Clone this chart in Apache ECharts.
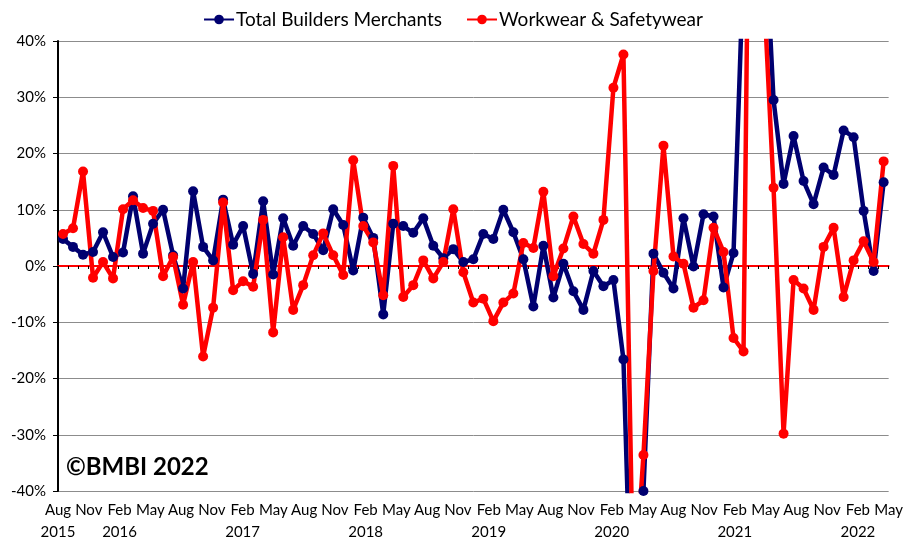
<!DOCTYPE html>
<html lang="en">
<head>
    <meta charset="utf-8">
    <title>BMBI - Workwear & Safetywear</title>
    <style type="text/css">
        html, body {
            margin: 0;
            padding: 0;
            background: #ffffff;
        }

        #main {
            width: 906px;
            height: 543px;
        }
    </style>
</head>
<body>
<div id="main"></div>
<script src="https://cdn.jsdelivr.net/npm/echarts@6/dist/echarts.min.js" type="text/javascript"></script>
<script type="text/javascript">
    // monthly points, Jul 2015 .. May 2022
    const months = [
        'Jul 2015', 'Aug 2015', 'Sep 2015', 'Oct 2015', 'Nov 2015', 'Dec 2015',
        'Jan 2016', 'Feb 2016', 'Mar 2016', 'Apr 2016', 'May 2016', 'Jun 2016', 'Jul 2016', 'Aug 2016', 'Sep 2016', 'Oct 2016', 'Nov 2016', 'Dec 2016',
        'Jan 2017', 'Feb 2017', 'Mar 2017', 'Apr 2017', 'May 2017', 'Jun 2017', 'Jul 2017', 'Aug 2017', 'Sep 2017', 'Oct 2017', 'Nov 2017', 'Dec 2017',
        'Jan 2018', 'Feb 2018', 'Mar 2018', 'Apr 2018', 'May 2018', 'Jun 2018', 'Jul 2018', 'Aug 2018', 'Sep 2018', 'Oct 2018', 'Nov 2018', 'Dec 2018',
        'Jan 2019', 'Feb 2019', 'Mar 2019', 'Apr 2019', 'May 2019', 'Jun 2019', 'Jul 2019', 'Aug 2019', 'Sep 2019', 'Oct 2019', 'Nov 2019', 'Dec 2019',
        'Jan 2020', 'Feb 2020', 'Mar 2020', 'Apr 2020', 'May 2020', 'Jun 2020', 'Jul 2020', 'Aug 2020', 'Sep 2020', 'Oct 2020', 'Nov 2020', 'Dec 2020',
        'Jan 2021', 'Feb 2021', 'Mar 2021', 'Apr 2021', 'May 2021', 'Jun 2021', 'Jul 2021', 'Aug 2021', 'Sep 2021', 'Oct 2021', 'Nov 2021', 'Dec 2021',
        'Jan 2022', 'Feb 2022', 'Mar 2022', 'Apr 2022', 'May 2022'
    ];

    // % change year on year
    const totalBuilders = [
        4.8, 3.4, 2.0, 2.5, 6.0, 1.6, 2.4, 12.4, 2.2, 7.5, 10.0, 1.9, -4.0, 13.3, 3.4, 1.0,
        11.8, 3.8, 7.1, -1.4, 11.5, -1.5, 8.5, 3.6, 7.1, 5.7, 2.8, 10.1, 7.3, -0.8,
        8.6, 5.0, -8.6, 7.5, 7.1, 5.9, 8.5, 3.6, 1.4, 3.0, 0.7, 1.2, 5.7,
        4.8, 10.0, 6.0, 1.2, -7.2, 3.6, -5.6, 0.4, -4.5, -7.8, -0.9, -3.6, -2.5,
        -16.6, -76, -40, 2.2, -1.2, -4.0, 8.5, -0.1, 9.2, 8.8, -3.8, 2.3,
        54, 250, 65, 29.5, 14.6, 23.1, 15.1, 11.0, 17.5, 16.2, 24.1, 22.9, 9.8, -0.9, 14.9
    ];

    const workwear = [
        5.7, 6.7, 16.8, -2.1, 0.7, -2.2, 10.1, 11.7, 10.3, 9.8, -1.8, 1.6, -6.9, 0.7, -16.1, -7.4,
        11.3, -4.3, -2.7, -3.7, 8.2, -11.8, 5.1, -7.8, -3.4, 1.9, 5.8, 1.9, -1.6, 18.8,
        7.1, 4.2, -5.2, 17.8, -5.5, -3.4, 1.0, -2.2, 0.7, 10.1, -1.1, -6.5, -5.8,
        -9.8, -6.5, -4.9, 4.1, 3.2, 13.2, -1.8, 3.1, 8.8, 3.9, 2.2, 8.2, 31.7,
        37.6, -60, -33.6, -0.9, 21.4, 1.7, 0.4, -7.4, -6.1, 6.8, 2.5, -12.8,
        -15.2, 150, 50, 13.9, -29.8, -2.5, -4.0, -7.8, 3.4, 6.8, -5.5, 1.0, 4.4, 0.7, 18.6
    ];

    // quarterly tick labels under the axis
    const tickLabels = [
        'Aug\n2015', 'Nov', 'Feb\n2016', 'May', 'Aug', 'Nov', 'Feb\n2017', 'May', 'Aug', 'Nov',
        'Feb\n2018', 'May', 'Aug', 'Nov', 'Feb\n2019', 'May', 'Aug', 'Nov', 'Feb\n2020', 'May',
        'Aug', 'Nov', 'Feb\n2021', 'May', 'Aug', 'Nov', 'Feb\n2022', 'May'
    ];

    const BLUE = '#000070';
    const RED = '#ff0000';
    const FONT = 'Lato';

    let myChart = echarts.init(document.getElementById('main'), null, {renderer: 'canvas'});

    function lineSeries(name, data, color) {
        return {
            name: name,
            type: 'line',
            xAxisIndex: 0,
            data: data,
            clip: true,
            symbol: 'circle',
            symbolSize: 10,
            showSymbol: true,
            showAllSymbol: true,
            color: color,
            lineStyle: {width: 4.5, color: color},
            itemStyle: {color: color}
        };
    }

    let option = {
        animation: false,
        textStyle: {fontFamily: FONT, color: '#000'},
        legend: {
            top: 5,
            left: 'center',
            itemWidth: 30,
            itemHeight: 12,
            itemGap: 24,
            textStyle: {fontFamily: FONT, fontSize: 19, color: '#000', padding: [0, 0, 0, -3]},
            data: ['Total Builders Merchants', 'Workwear & Safetywear']
        },
        grid: {left: 58, right: 14, top: 41, bottom: 49},
        xAxis: [
            {
                type: 'category',
                data: months,
                boundaryGap: true,
                axisLine: {onZero: true, lineStyle: {color: RED, width: 2}},
                axisTick: {show: true, interval: 0, length: 3, lineStyle: {color: '#000', width: 1}},
                axisLabel: {show: false},
                splitLine: {show: false}
            },
            {
                type: 'category',
                data: tickLabels,
                position: 'bottom',
                boundaryGap: false,
                axisLine: {show: false, onZero: false},
                axisTick: {show: false},
                axisLabel: {
                    interval: 0,
                    margin: 8,
                    fontFamily: FONT,
                    fontSize: 15,
                    lineHeight: 22,
                    color: '#000'
                },
                splitLine: {show: false}
            }
        ],
        yAxis: {
            type: 'value',
            min: -40,
            max: 40,
            interval: 10,
            axisLine: {show: true, lineStyle: {color: '#000', width: 2}},
            axisTick: {show: true, length: 5, lineStyle: {color: '#000'}},
            axisLabel: {formatter: '{value}%', margin: 12, fontFamily: FONT, fontSize: 15, color: '#000'},
            splitLine: {lineStyle: {color: '#8c8c8c', width: 1}}
        },
        graphic: [
            {
                type: 'text',
                left: 66,
                top: 455,
                style: {text: '©BMBI 2022', fontFamily: FONT, fontWeight: 'bold', fontSize: 24, fill: '#000'}
            }
        ],
        series: [
            lineSeries('Total Builders Merchants', totalBuilders, BLUE),
            lineSeries('Workwear & Safetywear', workwear, RED)
        ]
    };

    myChart.setOption(option);
</script>
</body>
</html>
